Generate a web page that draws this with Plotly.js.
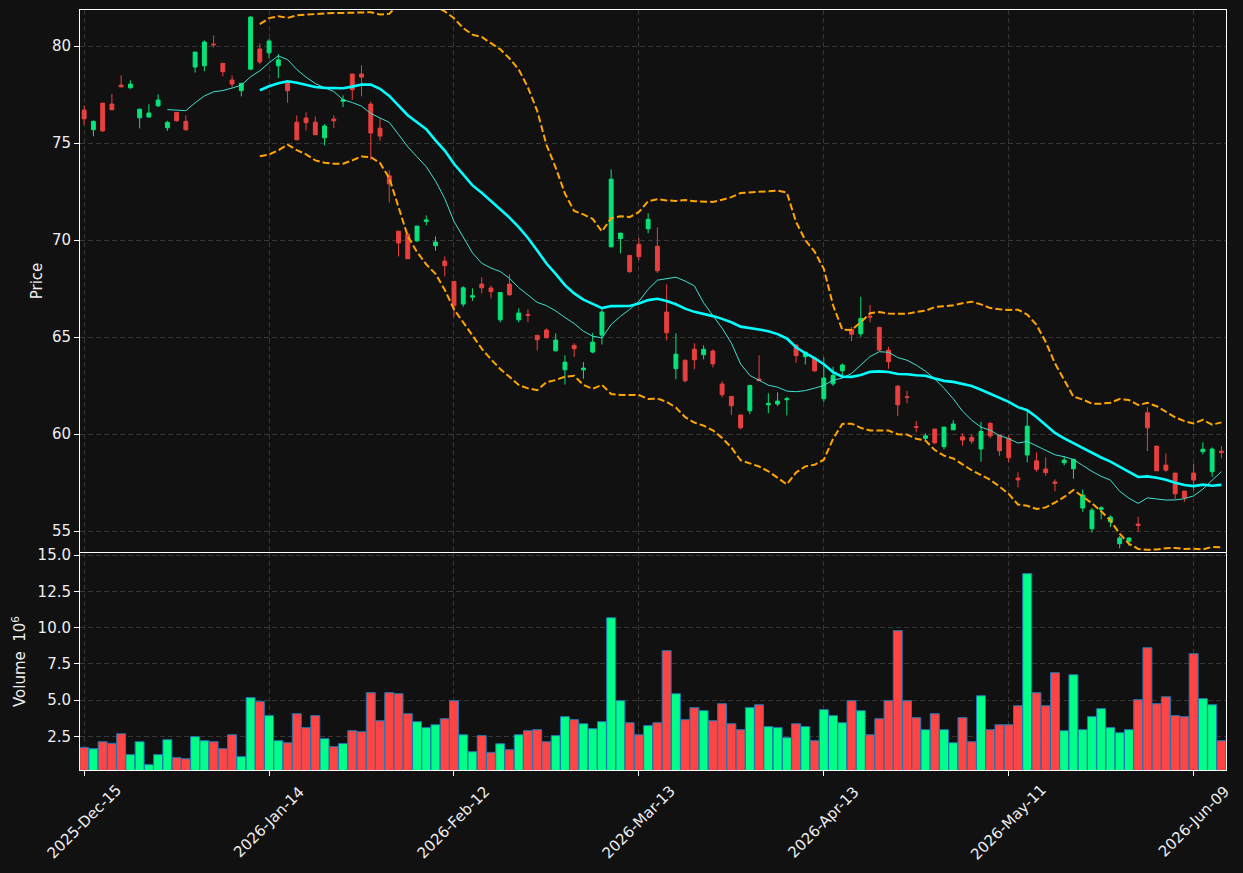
<!DOCTYPE html>
<html>
<head>
<meta charset="utf-8">
<script src="https://cdn.plot.ly/plotly-3.0.1.min.js"></script>
<style>
  html, body { margin: 0; padding: 0; background: #111111; }
  #chart { width: 1243px; height: 873px; }
</style>
</head>
<body>
<div id="chart"></div>
<script>
// ---- Data ----
const tickIndex = [0, 20, 40, 60, 80, 100, 120];
const tickLabels = ["2025-Dec-15", "2026-Jan-14", "2026-Feb-12", "2026-Mar-13", "2026-Apr-13", "2026-May-11", "2026-Jun-09"];
const priceTicks = [55, 60, 65, 70, 75, 80];
const volumeTicks = [2.5, 5, 7.5, 10, 12.5, 15];
const volumeTickLabels = ['2.5', '5.0', '7.5', '10.0', '12.5', '15.0'];

const open = [76.70,75.69,77.06,77.01,77.99,77.85,76.30,76.34,76.92,75.79,
76.58,76.12,78.92,78.98,80.10,79.11,78.25,77.70,78.81,79.85,
79.65,78.98,78.14,76.08,76.29,76.08,75.27,76.24,77.15,78.56,
78.56,77.01,75.77,73.31,70.46,70.31,69.96,70.96,69.71,68.92,
67.87,66.70,67.06,67.73,67.53,65.89,67.73,65.89,66.17,65.09,
65.36,64.29,63.31,64.57,63.31,64.23,65.10,69.65,70.07,69.21,
69.78,70.58,69.68,66.29,63.37,63.81,64.38,64.09,64.28,62.58,
61.94,60.98,61.20,62.84,61.51,61.55,61.77,64.59,63.99,63.92,
61.82,62.59,63.26,65.40,65.17,66.08,65.50,64.33,62.47,61.92,
60.38,59.78,60.26,59.35,60.22,59.86,59.83,59.23,60.55,59.95,
59.78,57.73,58.92,58.62,58.20,57.53,58.52,58.21,56.19,55.12,
56.12,55.48,54.35,54.48,55.36,61.10,59.38,58.40,57.99,57.06,
57.99,59.09,58.06,59.12];

const high = [76.94,76.17,77.06,77.53,78.49,78.23,76.75,77.00,77.51,76.15,
76.58,76.43,79.69,80.29,80.55,79.11,78.49,78.08,81.55,80.14,
80.36,79.59,78.14,76.43,76.58,76.38,75.98,76.43,77.46,78.56,
79.01,77.15,76.29,73.59,70.46,70.31,70.72,71.27,70.19,69.16,
67.87,67.63,67.51,68.08,67.66,67.30,68.23,66.48,66.43,65.09,
65.45,65.19,64.06,64.68,63.71,65.22,66.43,73.64,70.36,69.21,
70.12,71.38,70.65,67.72,65.19,63.81,64.68,64.57,64.37,62.72,
61.97,61.02,62.51,64.06,62.10,62.15,61.92,64.64,64.24,63.95,
63.95,63.47,63.64,65.53,67.08,66.65,65.53,64.50,62.53,62.23,
60.67,60.04,60.26,60.36,60.72,60.04,59.99,60.63,60.63,59.95,
59.95,58.03,61.20,59.06,58.80,57.67,58.87,58.70,57.15,56.20,
56.29,55.81,54.74,54.68,55.74,61.38,59.38,59.00,57.99,57.06,
58.47,59.57,59.31,59.38];

const low = [75.94,75.35,75.57,76.70,77.87,77.80,75.76,76.34,76.86,75.63,
76.10,75.63,78.64,78.70,79.93,78.44,77.87,77.41,78.76,79.07,
79.38,78.35,77.08,75.17,75.65,75.43,74.88,75.77,76.86,77.23,
77.41,74.14,75.12,71.94,69.16,69.04,69.90,70.76,69.45,68.13,
66.05,66.56,66.87,67.25,67.00,65.76,67.13,65.76,65.76,64.31,
64.96,64.29,62.56,63.98,62.85,64.16,64.62,69.65,69.31,68.31,
68.97,70.35,68.31,64.83,62.82,62.66,63.34,63.85,63.44,61.89,
60.98,60.24,61.03,62.75,61.07,61.44,60.96,63.67,63.59,63.21,
61.66,62.47,62.99,64.79,65.01,65.76,64.29,63.37,60.93,61.58,
60.09,59.69,59.48,59.21,60.22,59.40,59.49,58.57,59.78,58.88,
58.54,57.25,58.54,58.06,57.85,57.05,58.39,57.70,55.99,54.93,
55.60,55.21,54.11,54.23,54.96,59.12,58.11,58.06,56.65,56.51,
57.08,58.95,57.80,58.75];

const close = [76.25,76.12,75.63,76.72,77.90,78.04,76.75,76.55,77.22,76.07,
76.15,75.69,79.69,80.21,80.07,78.68,78.04,78.08,81.49,79.18,
80.26,79.29,77.70,75.17,76.05,75.43,75.88,76.15,77.23,77.75,
78.40,75.52,75.36,72.90,69.85,69.04,70.72,71.04,69.90,68.68,
66.63,67.54,67.13,67.54,67.34,67.30,67.18,66.24,66.12,64.86,
64.96,64.85,63.71,64.40,63.40,64.74,66.29,73.14,70.36,68.37,
69.14,71.07,68.42,65.22,64.12,62.75,63.83,64.37,63.62,62.03,
61.46,60.32,62.51,62.75,61.58,61.70,61.82,64.04,64.22,63.26,
62.89,63.03,63.56,65.14,65.96,66.03,64.33,63.73,61.51,61.89,
60.35,59.91,59.55,60.36,60.52,59.69,59.64,60.14,59.91,59.14,
58.78,57.64,60.41,58.18,58.01,57.46,58.66,58.70,56.86,56.08,
56.20,55.72,54.64,54.64,55.29,60.32,58.11,58.14,56.92,56.72,
57.63,59.22,59.23,59.05];

const volume = [1.74,1.65,2.13,2.02,2.68,1.24,2.13,0.55,1.24,2.27,
1.03,0.96,2.48,2.20,2.13,1.65,2.61,1.10,5.17,4.91,
3.93,2.20,2.06,4.06,3.10,3.93,2.34,1.79,2.00,2.89,
2.82,5.51,3.58,5.51,5.44,4.06,3.51,3.10,3.30,3.72,
4.96,2.61,1.44,2.55,1.40,1.99,1.58,2.61,2.89,2.96,
2.13,2.55,3.86,3.65,3.37,3.03,3.51,10.68,4.96,3.44,
2.61,3.24,3.44,8.41,5.44,3.65,4.48,4.27,3.58,4.75,
3.37,2.96,4.48,4.68,3.17,3.10,2.41,3.37,3.17,2.20,
4.34,3.93,3.44,4.96,4.27,2.61,3.72,4.96,9.79,4.96,
3.79,2.96,4.06,2.96,2.06,3.79,2.13,5.30,2.96,3.30,
3.30,4.61,13.72,5.51,4.61,6.89,2.89,6.75,2.96,3.86,
4.41,3.10,2.75,2.96,5.03,8.61,4.75,5.23,3.93,3.86,
8.20,5.10,4.68,2.20];

// ---- Derived series (moving averages / Bollinger bands from closes) ----
const idx = close.map((_, i) => i);
function sma(arr, n) {
  return arr.map((_, i) => {
    if (i < n - 1) return null;
    let s = 0;
    for (let k = i - n + 1; k <= i; k++) s += arr[k];
    return s / n;
  });
}
function rollStd(arr, n) {
  return arr.map((_, i) => {
    if (i < n - 1) return null;
    let s = 0;
    for (let k = i - n + 1; k <= i; k++) s += arr[k];
    const m = s / n;
    let v = 0;
    for (let k = i - n + 1; k <= i; k++) v += (arr[k] - m) * (arr[k] - m);
    return Math.sqrt(v / (n - 1));
  });
}
const ma10 = sma(close, 10);
const ma20 = sma(close, 20);
const sd20 = rollStd(close, 20);
const bbUpper = ma20.map((m, i) => m === null ? null : m + 2 * sd20[i]);
const bbLower = ma20.map((m, i) => m === null ? null : m - 2 * sd20[i]);

const UP_C = '#06e37a', DN_C = '#e8403f';
const UP_V = '#00ff88', DN_V = '#ff4444';
const volColors = close.map((c, i) => c >= open[i] ? UP_V : DN_V);

const traces = [
  {
    type: 'candlestick', x: idx, open: open, high: high, low: low, close: close,
    xaxis: 'x2', yaxis: 'y2',
    increasing: { line: { color: UP_C, width: 1 }, fillcolor: UP_C },
    decreasing: { line: { color: DN_C, width: 1 }, fillcolor: DN_C },
    whiskerwidth: 0, hoverinfo: 'skip'
  },
  { type: 'scatter', mode: 'lines', x: idx, y: ma10, xaxis: 'x2', yaxis: 'y2',
    line: { color: '#40e0d0', width: 1 }, hoverinfo: 'skip' },
  { type: 'scatter', mode: 'lines', x: idx, y: ma20, xaxis: 'x2', yaxis: 'y2',
    line: { color: '#00ffff', width: 2.6 }, hoverinfo: 'skip' },
  { type: 'scatter', mode: 'lines', x: idx, y: bbUpper, xaxis: 'x2', yaxis: 'y2',
    line: { color: '#ffa500', width: 2, dash: '7px,3px' }, hoverinfo: 'skip' },
  { type: 'scatter', mode: 'lines', x: idx, y: bbLower, xaxis: 'x2', yaxis: 'y2',
    line: { color: '#ffa500', width: 2, dash: '7px,3px' }, hoverinfo: 'skip' },
  {
    type: 'bar', x: idx, y: volume, xaxis: 'x', yaxis: 'y',
    marker: { color: volColors, line: { color: '#1f77b4', width: 1 } },
    hoverinfo: 'skip'
  }
];

const FS = 15;
const gridC = '#363636';
const axisCommon = {
  showline: true, mirror: true, linecolor: '#ffffff', linewidth: 1,
  showgrid: true, gridcolor: gridC, griddash: '5px,3px', gridwidth: 1,
  zeroline: false, ticks: 'outside', ticklen: 5, tickcolor: '#ffffff',
  tickfont: { color: '#eeeeee', size: FS, family: 'DejaVu Sans' }
};

// Date tick labels, rotated 45 degrees and centred on their ticks
const dateAnnotations = tickIndex.map((v, k) => ({
  x: v, xref: 'x', y: -0.0685, yref: 'paper',
  text: tickLabels[k], showarrow: false, textangle: -45,
  xanchor: 'center', yanchor: 'middle',
  font: { family: 'DejaVu Sans', size: FS, color: '#eeeeee' }
}));

const layout = {
  width: 1243, height: 873,
  paper_bgcolor: '#111111', plot_bgcolor: '#111111',
  margin: { l: 80, r: 17, t: 10, b: 103 },
  showlegend: false,
  font: { family: 'DejaVu Sans', color: '#eeeeee', size: FS },
  boxgap: 0.4,
  bargap: 0.03,
  annotations: dateAnnotations,
  xaxis: Object.assign({}, axisCommon, {
    domain: [0, 1], anchor: 'y', range: [-0.45, 123.5],
    tickmode: 'array', tickvals: tickIndex, showticklabels: false,
    rangeslider: { visible: false }
  }),
  xaxis2: Object.assign({}, axisCommon, {
    domain: [0, 1], anchor: 'y2', matches: 'x', range: [-0.45, 123.5],
    tickmode: 'array', tickvals: tickIndex, showticklabels: false, ticks: '',
    rangeslider: { visible: false }
  }),
  yaxis: Object.assign({}, axisCommon, {
    domain: [0, 0.2855], anchor: 'x', range: [0.18, 15.14],
    tickmode: 'array', tickvals: volumeTicks, ticktext: volumeTickLabels,
    title: { text: 'Volume  10<sup>6</sup>', font: { size: FS, color: '#eeeeee' }, standoff: 8 }
  }),
  yaxis2: Object.assign({}, axisCommon, {
    domain: [0.2868, 1], anchor: 'x2', range: [53.92, 81.86],
    tickmode: 'array', tickvals: priceTicks,
    title: { text: 'Price', font: { size: FS, color: '#eeeeee' }, standoff: 5 }
  })
};

Plotly.newPlot('chart', traces, layout, { displayModeBar: false, staticPlot: true });
</script>
</body>
</html>
